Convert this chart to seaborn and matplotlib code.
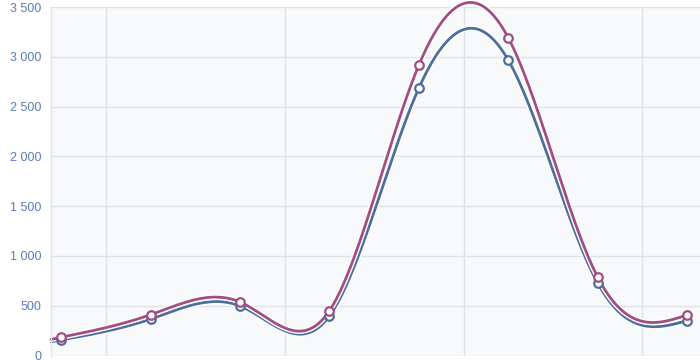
import numpy as np
import pandas as pd
import matplotlib
matplotlib.use("Agg")
import matplotlib.pyplot as plt
import matplotlib.patheffects as pe
from matplotlib.ticker import FixedLocator, FuncFormatter
import seaborn as sns

# ---- data ----
positions = [0, 1, 2, 3, 4, 5, 6, 7]
series_blue = [156, 366, 497, 397, 2686, 2967, 728, 350]
series_pink = [183, 410, 537, 450, 2917, 3191, 788, 407]
y_ticks = [0, 500, 1000, 1500, 2000, 2500, 3000, 3500]

BLUE = "#4d6e9b"
PINK = "#a24e82"
GRID = "#dfe2e8"
LABEL = "#5b7cb6"
BG = "#f8f9fb"


def natural_spline(xs, ys, xq):
    xs = np.asarray(xs, float)
    ys = np.asarray(ys, float)
    n = len(xs)
    h = np.diff(xs)
    A = np.zeros((n, n))
    r = np.zeros(n)
    A[0, 0] = A[-1, -1] = 1.0
    for i in range(1, n - 1):
        A[i, i - 1] = h[i - 1]
        A[i, i] = 2 * (h[i - 1] + h[i])
        A[i, i + 1] = h[i]
        r[i] = 6 * ((ys[i + 1] - ys[i]) / h[i] - (ys[i] - ys[i - 1]) / h[i - 1])
    M = np.linalg.solve(A, r)
    idx = np.clip(np.searchsorted(xs, xq) - 1, 0, n - 2)
    x0, x1 = xs[idx], xs[idx + 1]
    y0, y1 = ys[idx], ys[idx + 1]
    m0, m1 = M[idx], M[idx + 1]
    hh = x1 - x0
    a = (x1 - xq) / hh
    b = (xq - x0) / hh
    return (a * y0 + b * y1 + ((a ** 3 - a) * m0 + (b ** 3 - b) * m1) * hh ** 2 / 6)


x_lo, x_hi = -0.115, 7.145
xq = np.linspace(x_lo, positions[-1], 800)
curve = pd.concat([
    pd.DataFrame({"x": xq, "y": natural_spline(positions, series_blue, xq), "s": "blue"}),
    pd.DataFrame({"x": xq, "y": natural_spline(positions, series_pink, xq), "s": "pink"}),
])
pts = pd.concat([
    pd.DataFrame({"x": positions, "y": series_blue, "s": "blue"}),
    pd.DataFrame({"x": positions, "y": series_pink, "s": "pink"}),
])

sns.set_theme(style="white")
plt.rcParams["font.family"] = ["Liberation Sans", "DejaVu Sans"]

fig = plt.figure(figsize=(7.0, 3.6), dpi=100)
fig.patch.set_facecolor("white")
ax = fig.add_axes([51 / 700, 4.5 / 360, 1 - 51 / 700, (355.5 - 7) / 360])
ax.set_facecolor(BG)

palette = {"blue": BLUE, "pink": PINK}
sns.lineplot(data=curve, x="x", y="y", hue="s", palette=palette, ax=ax,
             linewidth=2.0, legend=False, sort=False, estimator=None)
for ln in ax.lines:
    ln.set_path_effects([pe.Stroke(linewidth=4.0, foreground="white"), pe.Normal()])
    ln.set_clip_on(False)
for key in ["blue", "pink"]:
    sub = pts[pts["s"] == key]
    sns.scatterplot(data=sub, x="x", y="y", ax=ax, s=38, color="white",
                    edgecolor=palette[key], linewidth=1.6, zorder=5, legend=False,
                    clip_on=False)

ax.set_xlim(x_lo, x_hi)
ax.set_ylim(0, 3500)
ax.yaxis.set_major_locator(FixedLocator(y_ticks))
ax.yaxis.set_major_formatter(FuncFormatter(lambda v, p: f"{int(v):,}".replace(",", " ")))
ax.xaxis.set_major_locator(FixedLocator([0.5, 2.5, 4.5, 6.5]))
ax.xaxis.set_minor_locator(FixedLocator([1.5, 3.5, 5.5]))
ax.set_xticklabels([])
ax.tick_params(axis="x", which="both", direction="out", length=8, width=1,
               color=GRID, labelbottom=False)
ax.tick_params(axis="y", length=0, pad=7, labelsize=9, labelcolor=LABEL)
ax.grid(True, axis="both", which="major", color=GRID, linewidth=1)
ax.set_axisbelow(True)
ax.set_xlabel("")
ax.set_ylabel("")
for side in ["top", "right", "bottom"]:
    ax.spines[side].set_visible(False)
ax.spines["left"].set_color(GRID)
ax.spines["left"].set_linewidth(1)

fig.savefig("out.png", dpi=100, facecolor="white")
